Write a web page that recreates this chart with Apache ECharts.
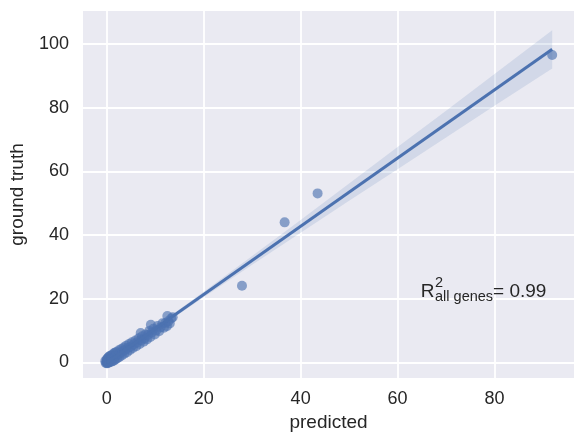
<!DOCTYPE html>
<html>
<head>
<meta charset="utf-8">
<script src="https://cdn.jsdelivr.net/npm/echarts@6/dist/echarts.min.js"></script>
<style>
    html, body { margin: 0; padding: 0; background: #fff; }
    #chart { width: 585px; height: 444px; }
</style>
</head>
<body>
<div id="chart"></div>
<script>
// values
var predicted = [
    -0.3, -0.2, 0, 0, 0.02, 0.05, 0.1, 0.1, 0.15, 0.2, 0.25, 0.3, 0.35, 0.4, 0.5, 0.55, 0.6, 0.7, 0.8, 0.9,
    1.0, 1.1, 1.2, 1.3, 1.4, 1.5, 1.6, 1.7, 1.8, 1.9, 2.0, 2.2, 2.3, 2.5, 2.6, 2.8, 3.0, 3.1, 3.3, 3.5,
    3.6, 3.8, 4.0, 4.2, 4.4, 4.6, 4.8, 5.0, 5.2, 5.4, 5.6, 5.9, 6.1, 6.3, 6.6, 6.8, 7.0, 7.1, 7.3, 7.6,
    7.8, 8.0, 8.3, 8.5, 8.8, 9.1, 9.0, 9.3, 9.6, 9.9, 10.2, 10.5, 10.8, 11.1, 11.5, 11.8, 12.1, 12.4, 12.5, 12.7,
    13.0, 13.3, 13.6, 27.9, 36.7, 43.5, 91.9
];
var groundTruth = [
    0.4, -0.2, 0, 1.0, 0.3, -0.3, 0.8, 0.2, -0.2, 1.3, 0.3, 0.9, 1.6, -0.1, 0.7, 1.9, 0.1, 1.2, 2.1, 0.2,
    1.1, 2.3, 0.4, 1.5, 2.8, 0.6, 1.8, 3.0, 0.9, 2.2, 3.3, 1.3, 2.5, 3.8, 1.7, 3.0, 4.2, 2.2, 3.4, 4.7,
    2.7, 3.9, 5.2, 3.2, 4.5, 5.8, 3.9, 5.0, 6.3, 4.5, 5.7, 6.9, 5.1, 6.3, 7.6, 5.8, 9.2, 7.0, 8.2, 6.5,
    7.5, 8.8, 7.2, 8.6, 9.9, 11.8, 8.0, 9.4, 10.6, 8.8, 10.0, 11.4, 9.8, 11.0, 12.3, 10.9, 12.4, 11.4, 14.6, 12.9,
    12.2, 13.8, 14.2, 24.1, 44.0, 53.1, 96.6
];
// half width of the confidence band along the fit
var ciX = [0, 10, 20, 30, 40, 50, 60, 70, 80, 91.9];
var ciHalf = [0.3, 0.5, 0.9, 1.4, 2.0, 2.7, 3.5, 4.2, 5.0, 6.0];
var xTicks = [0, 20, 40, 60, 80];
var yTicks = [0, 20, 40, 60, 80, 100];
var r2Value = '0.99';

var FONT = 'Liberation Sans, Arial, sans-serif';
var TXT = '#262626';
var BLUE = '#4C72B0';

// 最小二乘拟合
var n = predicted.length, sx = 0, sy = 0;
for (var i = 0; i < n; i++) { sx += predicted[i]; sy += groundTruth[i]; }
var mx = sx / n, my = sy / n, sxy = 0, sxx = 0;
for (var i = 0; i < n; i++) {
    sxy += (predicted[i] - mx) * (groundTruth[i] - my);
    sxx += (predicted[i] - mx) * (predicted[i] - mx);
}
var slope = sxy / sxx, icpt = my - slope * mx;
var xLo = Math.min.apply(null, predicted), xHi = Math.max.apply(null, predicted);
function fit(x) { return icpt + slope * x; }

var points = predicted.map(function (x, i) { return [x, groundTruth[i]]; });
var band = ciX.map(function (x, i) { return [x, ciHalf[i]]; });

var myChart = echarts.init(document.getElementById('chart'));
var axisCommon = {
    axisLine: { show: false },
    axisTick: { show: false },
    splitLine: { show: true, lineStyle: { color: '#ffffff', width: 1.8 } },
    nameTextStyle: { color: TXT, fontSize: 19, fontFamily: FONT }
};
myChart.setOption({
    animation: false,
    backgroundColor: '#ffffff',
    grid: { left: 80, top: 11, width: 494, height: 367, show: true, backgroundColor: '#EAEAF2', borderWidth: 0 },
    xAxis: Object.assign({}, axisCommon, {
        type: 'value', min: -4.9, max: 96.4,
        name: 'predicted', nameLocation: 'middle', nameGap: 29,
        axisTick: { show: false, customValues: xTicks },
        axisLabel: { customValues: xTicks, color: TXT, fontSize: 18, fontFamily: FONT, margin: 12 }
    }),
    yAxis: Object.assign({}, axisCommon, {
        type: 'value', min: -4.9, max: 110.4,
        name: 'ground truth', nameLocation: 'middle', nameGap: 56,
        axisTick: { show: false, customValues: yTicks },
        axisLabel: { customValues: yTicks, color: TXT, fontSize: 18, fontFamily: FONT, margin: 14 }
    }),
    series: [
        {
            type: 'scatter', data: points, symbolSize: 10, z: 2,
            itemStyle: { color: 'rgba(76,114,176,0.8)' }
        },
        {
            type: 'custom', data: band, z: 3, silent: true,
            renderItem: function (params, api) {
                if (params.dataIndex !== 0) return;
                var pts = [];
                for (var k = 0; k < band.length; k++) pts.push(api.coord([band[k][0], fit(band[k][0]) + band[k][1]]));
                for (var k = band.length - 1; k >= 0; k--) pts.push(api.coord([band[k][0], fit(band[k][0]) - band[k][1]]));
                return { type: 'polygon', shape: { points: pts }, style: { fill: 'rgba(76,114,176,0.15)' } };
            }
        },
        {
            type: 'line', data: [[0, fit(0)], [xHi, fit(xHi)]], z: 4,
            showSymbol: false, symbol: 'none',
            lineStyle: { color: BLUE, width: 3 }
        }
    ]
});

// R² 标注
var ctx = document.createElement('canvas').getContext('2d');
function tw(s, size) { ctx.font = size + 'px "Liberation Sans"'; return ctx.measureText(s).width; }
var p = myChart.convertToPixel({ gridIndex: 0 }, [65, 20]);
var big = 19, small = 14.5;
var x1 = p[0] + tw('R', big) + 0.5;
var x2 = x1 + tw('all genes', small);
function txt(s, x, baseline, size) {
    return { type: 'text', x: x, y: baseline + 0.15 * size, z: 10,
        style: { text: s, font: size + 'px ' + FONT, fill: TXT, align: 'left', verticalAlign: 'bottom' } };
}
myChart.setOption({
    graphic: [
        txt('R', p[0] - 1, p[1], big),
        txt('2', x1 - 1, p[1] - 10, small),
        txt('all genes', x1 - 1, p[1] + 4, small),
        txt('= ' + r2Value, x2 - 1, p[1], big)
    ]
});
</script>
</body>
</html>
